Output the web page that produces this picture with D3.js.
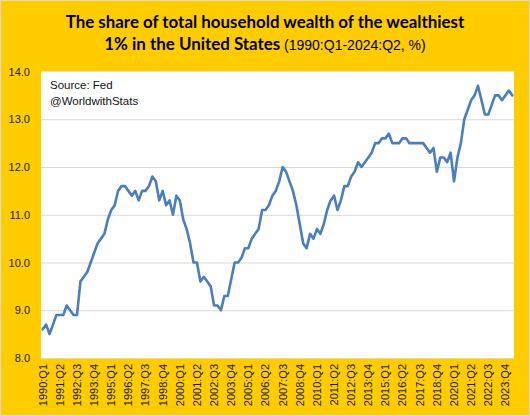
<!DOCTYPE html>
<html>
<head>
<meta charset="utf-8">
<script src="https://cdn.jsdelivr.net/npm/d3@7"></script>
<style>
  html, body { margin: 0; padding: 0; background: #fff; }
  svg { display: block; }
</style>
</head>
<body>
<div id="chart"></div>
<script>
// top 1% share of household wealth, quarterly 1990:Q1 .. 2024:Q2
const startYear = 1990;
const shareValues = [
  8.6, 8.7, 8.5, 8.7, 8.9, 8.9, 8.9, 9.1, 9.0, 8.9,
  8.9, 9.6, 9.7, 9.8, 10.0, 10.2, 10.4, 10.5, 10.6, 10.9,
  11.1, 11.2, 11.5, 11.6, 11.6, 11.5, 11.4, 11.5, 11.3, 11.5,
  11.5, 11.6, 11.8, 11.7, 11.3, 11.5, 11.2, 11.3, 11.0, 11.4,
  11.3, 10.9, 10.7, 10.4, 10.0, 10.0, 9.6, 9.7, 9.6, 9.5,
  9.1, 9.1, 9.0, 9.3, 9.3, 9.65, 10.0, 10.0, 10.1, 10.3,
  10.3, 10.5, 10.6, 10.7, 11.1, 11.1, 11.2, 11.4, 11.5, 11.7,
  12.0, 11.9, 11.7, 11.5, 11.2, 10.8, 10.4, 10.3, 10.6, 10.5,
  10.7, 10.6, 10.8, 11.1, 11.3, 11.4, 11.1, 11.3, 11.6, 11.6,
  11.8, 11.9, 12.1, 12.0, 12.1, 12.2, 12.3, 12.5, 12.5, 12.6,
  12.6, 12.7, 12.5, 12.5, 12.5, 12.6, 12.6, 12.5, 12.5, 12.5,
  12.5, 12.5, 12.4, 12.3, 12.4, 11.9, 12.2, 12.2, 12.1, 12.3,
  11.7, 12.2, 12.5, 13.0, 13.2, 13.4, 13.5, 13.7, 13.4, 13.1,
  13.1, 13.3, 13.5, 13.5, 13.4, 13.5, 13.6, 13.5
];
const tickLabels = [
  "1990:Q1", "1991:Q2", "1992:Q3", "1993:Q4", "1995:Q1", "1996:Q2", "1997:Q3",
  "1998:Q4", "2000:Q1", "2001:Q2", "2002:Q3", "2003:Q4", "2005:Q1", "2006:Q2",
  "2007:Q3", "2008:Q4", "2010:Q1", "2011:Q2", "2012:Q3", "2013:Q4", "2015:Q1",
  "2016:Q2", "2017:Q3", "2018:Q4", "2020:Q1", "2021:Q2", "2022:Q3", "2023:Q4"
];
const yTicks = [8, 9, 10, 11, 12, 13, 14];

const quarters = shareValues.map((v, i) =>
  `${startYear + Math.floor(i / 4)}:Q${(i % 4) + 1}`);

const W = 530, H = 416;
const plot = { left: 41, right: 514, top: 71.5, bottom: 358 };

const svg = d3.select('#chart').append('svg')
  .attr('width', W)
  .attr('height', H);

// yellow card with thin grey edge
svg.append('rect')
  .attr('x', 0.5).attr('y', 0.5)
  .attr('width', W - 1).attr('height', H - 1)
  .attr('fill', '#ffcc00')
  .attr('stroke', '#d9d9d9');

svg.append('rect')
  .attr('x', plot.left).attr('y', plot.top)
  .attr('width', plot.right - plot.left)
  .attr('height', plot.bottom - plot.top)
  .attr('fill', '#fff');

const x = d3.scaleBand()
  .domain(quarters)
  .range([plot.left, plot.right]);

const y = d3.scaleLinear()
  .domain([8, 14])
  .range([plot.bottom, plot.top]);

// gridlines
svg.append('g')
  .attr('transform', `translate(${plot.left},0)`)
  .call(d3.axisLeft(y).tickValues(yTicks.filter(t => t > 8 && t < 14))
    .tickSize(-(plot.right - plot.left)).tickFormat(''))
  .call(g => g.select('.domain').remove())
  .call(g => g.selectAll('line').attr('stroke', '#d9d9d9').attr('stroke-width', 1));

// y labels
svg.append('g')
  .attr('transform', `translate(${plot.left},0)`)
  .call(d3.axisLeft(y).tickValues(yTicks).tickSize(0).tickPadding(11)
    .tickFormat(d3.format('.1f')))
  .call(g => g.select('.domain').remove())
  .call(g => g.selectAll('text')
    .attr('font-family', 'Liberation Sans, Arial, sans-serif')
    .attr('font-size', '11px')
    .attr('fill', '#1a1a1a'));

// x axis
const xAxis = svg.append('g')
  .attr('transform', `translate(0,${plot.bottom})`)
  .call(d3.axisBottom(x)
    .tickValues(tickLabels)
    .tickSize(0)
    .tickPadding(0))
  .call(g => g.select('.domain')
    .attr('stroke', '#d9d9d9')
    .attr('d', `M${plot.left},0.5H${plot.right}`));

xAxis.selectAll('text')
  .attr('font-family', 'Liberation Sans, Arial, sans-serif')
  .attr('font-size', '11px')
  .attr('fill', '#1a1a1a')
  .attr('text-anchor', 'end')
  .attr('dy', '0.35em')
  .attr('transform', 'translate(0,6) rotate(-90)');

// the line
const line = d3.line()
  .x((d, i) => x(quarters[i]) + x.bandwidth() / 2)
  .y(d => y(d));

svg.append('path')
  .datum(shareValues)
  .attr('fill', 'none')
  .attr('stroke', '#4a7ebd')
  .attr('stroke-width', 2.6)
  .attr('stroke-linejoin', 'round')
  .attr('stroke-linecap', 'round')
  .attr('d', line);

// source note
const note = svg.append('g')
  .attr('font-family', 'Liberation Sans, Arial, sans-serif')
  .attr('font-size', '11.5px')
  .attr('fill', '#111');
note.append('text').attr('x', 50).attr('y', 89).text('Source: Fed');
note.append('text').attr('x', 50).attr('y', 105).text('@WorldwithStats');

// title
const titleFont = 'Lato, "Open Sans", sans-serif';
const t1 = svg.append('text')
  .attr('x', W / 2).attr('y', 28)
  .attr('text-anchor', 'middle')
  .attr('font-family', titleFont)
  .attr('font-weight', 700)
  .attr('font-size', '16px')
  .attr('fill', '#000')
  .text('The share of total household wealth of the wealthiest');

// fit first line to ~399px like the original
const w1 = t1.node().getComputedTextLength();
const fs = 16 * 399 / w1;
t1.attr('font-size', fs + 'px');

const t2 = svg.append('text')
  .attr('x', W / 2).attr('y', 50)
  .attr('text-anchor', 'middle')
  .attr('fill', '#000');
t2.append('tspan')
  .attr('font-family', titleFont)
  .attr('font-weight', 700)
  .attr('font-size', fs + 'px')
  .text('1% in the United States');
t2.append('tspan')
  .attr('font-family', 'Liberation Sans, Arial, sans-serif')
  .attr('font-size', '14px')
  .text(' (1990:Q1-2024:Q2, %)');
</script>
</body>
</html>
